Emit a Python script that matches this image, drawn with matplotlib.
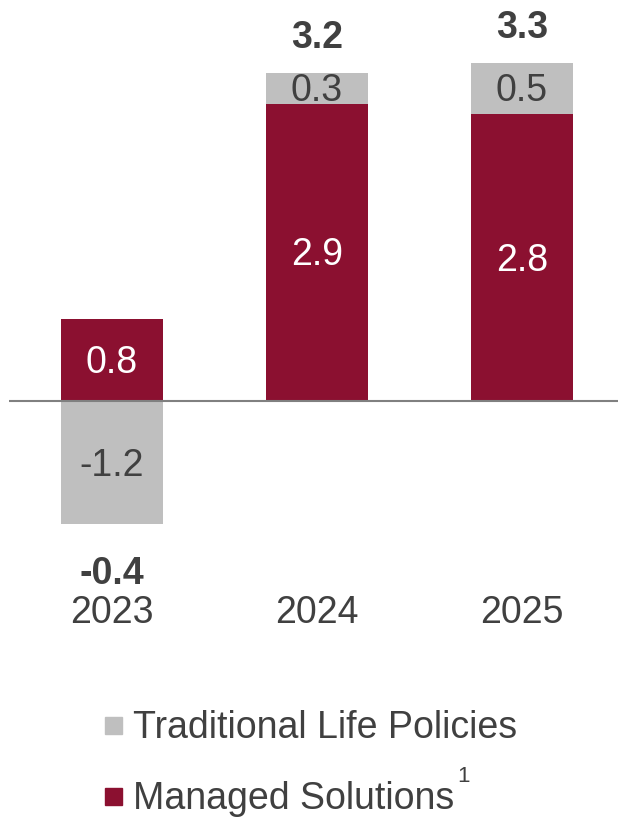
import matplotlib
matplotlib.use("Agg")
import matplotlib.pyplot as plt
from matplotlib.patches import Rectangle

years = ["2023", "2024", "2025"]
managed = [0.8, 2.9, 2.8]
traditional = [-1.2, 0.3, 0.5]
totals = [-0.4, 3.2, 3.3]
series_names = ["Traditional Life Policies", "Managed Solutions"]

RED = "#8B1030"
GREY = "#BFBFBF"
TXT = "#404040"
plt.rcParams["font.family"] = ["Liberation Sans", "DejaVu Sans"]

W, H = 618, 818
fig = plt.figure(figsize=(W / 100, H / 100), dpi=100)
ax = fig.add_axes([9 / W, 0, (W - 9) / W, 1])
ppu_x = 205.0
ppu_y = 102.5
x0px = 112
zero_px = 401
ax.set_xlim((9 - x0px) / ppu_x, (W - x0px) / ppu_x)
ax.set_ylim(-(H - zero_px) / ppu_y, zero_px / ppu_y)
ax.axis("off")

xs = list(range(len(years)))
bw = 102 / ppu_x
ax.bar(xs, managed, width=bw, color=RED, zorder=2)
trad_bottom = [m if t > 0 else 0 for m, t in zip(managed, traditional)]
ax.bar(xs, traditional, width=bw, bottom=trad_bottom, color=GREY, zorder=2)
ax.axhline(0, color="#808080", lw=1.5, zorder=3)

fs = 27
dy = 0.03
for x, m, t, b, tot, yr in zip(xs, managed, traditional, trad_bottom, totals, years):
    ax.text(x, m / 2 - dy, f"{m:.1f}", ha="center", va="center", color="white", fontsize=fs, zorder=4)
    ax.text(x, b + t / 2 - dy, f"{t:.1f}", ha="center", va="center", color=TXT, fontsize=fs, zorder=4)
    if tot >= 0:
        top = m + max(t, 0)
        ax.text(x, top + 0.37 - dy, f"{tot:.1f}", ha="center", va="center", color=TXT,
                fontsize=fs, fontweight="bold")
    else:
        ax.text(x, t - 0.46 - dy, f"{tot:.1f}", ha="center", va="center", color=TXT,
                fontsize=fs, fontweight="bold")
    ax.text(x, -2.04 - dy, yr, ha="center", va="center", color=TXT, fontsize=fs)

leg_items = [(series_names[0], GREY, 717), (series_names[1], RED, 788)]
for name, col, ytop in leg_items:
    fig.patches.append(Rectangle((105 / W, 1 - (ytop + 17) / H), 17 / W, 17 / H,
                                 transform=fig.transFigure, color=col))
    fig.text(133 / W, 1 - (ytop + 11) / H, name, ha="left", va="center", color=TXT, fontsize=fs)
fig.text(457 / W, 1 - 777 / H, "1", ha="left", va="center", color=TXT, fontsize=16)

fig.savefig("out.png", dpi=100)
